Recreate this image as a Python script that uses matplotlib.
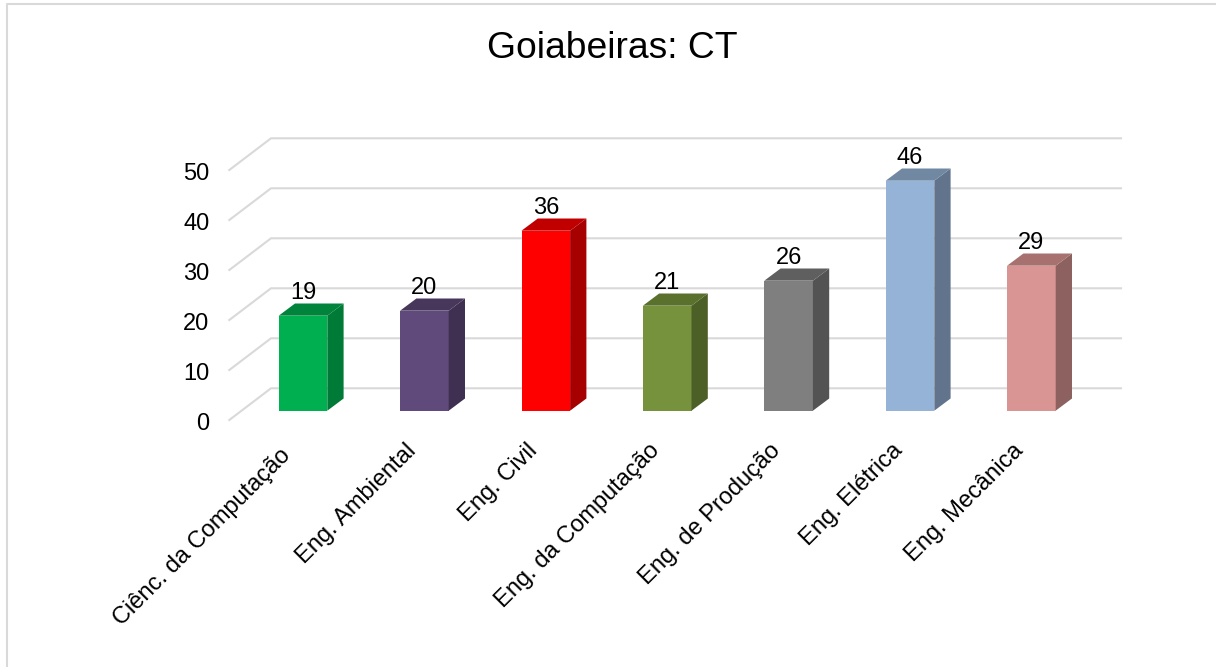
import matplotlib
matplotlib.use("Agg")
import matplotlib.pyplot as plt
from matplotlib.patches import Polygon, Rectangle
from matplotlib.lines import Line2D

categories = ["Ciênc. da Computação", "Eng. Ambiental", "Eng. Civil", "Eng. da Computação",
              "Eng. de Produção", "Eng. Elétrica", "Eng. Mecânica"]
values = [19, 20, 36, 21, 26, 46, 29]
y_ticks = [0, 10, 20, 30, 40, 50]
front_colors = ["#00B050", "#604A7B", "#FF0000", "#76923C", "#7F7F7F", "#95B3D7", "#D99594"]
side_colors = ["#007A37", "#3F2F50", "#A60000", "#4C5F27", "#535353", "#61748C", "#8D6160"]
top_colors = ["#00843C", "#47375B", "#C00000", "#5A702D", "#5F5F5F", "#7088A2", "#A7716F"]

plt.rcParams["font.family"] = ["Liberation Sans", "DejaVu Sans"]

W, H = 1216, 667
px_x = 121.4   # pixels per category
px_y = 5.0     # pixels per unit
x0, y0 = 303.0, 410.7   # pixel of category 0, value 0

fig = plt.figure(figsize=(W / 100, H / 100), dpi=100)
ax = fig.add_axes([0, 0, 1, 1])
ax.set_xlim(-x0 / px_x, (W - x0) / px_x)
ax.set_ylim((y0 - H) / px_y, y0 / px_y)
ax.axis("off")

# offsets of the fake 3d view, in data units
bar_w = 48.6 / px_x
bar_dx, bar_dy = 16.3 / px_x, 12.2 / px_y
back_x = (271 - x0) / px_x
back_end = (1121 - x0) / px_x
back_y = (y0 - 388.3) / px_y
wall_dx, wall_dy = 41.7 / px_x, 31.7 / px_y

grid_c = "#D9D9D9"
for t in y_ticks:
    ax.plot([back_x - wall_dx, back_x, back_end],
            [t + back_y - wall_dy, t + back_y, t + back_y],
            color=grid_c, lw=1.5, solid_joinstyle="miter", zorder=1)
    ax.text(back_x - wall_dx - 20 / px_x, t + back_y - wall_dy - 3.5 / px_y, str(t),
            fontsize=17, ha="right", va="center", color="black")

for i, v in enumerate(values):
    left = i - bar_w / 2
    right = i + bar_w / 2
    ax.add_patch(Rectangle((left, 0), bar_w, v, fc=front_colors[i], ec="none", zorder=3))
    ax.add_patch(Polygon([(right, 0), (right + bar_dx, bar_dy), (right + bar_dx, v + bar_dy), (right, v)],
                         fc=side_colors[i], ec="none", zorder=3))
    ax.add_patch(Polygon([(left, v), (left + bar_dx, v + bar_dy), (right + bar_dx, v + bar_dy), (right, v)],
                         fc=top_colors[i], ec="none", zorder=3))
    ax.text(i, v + 22.5 / px_y, str(v), fontsize=17, ha="center", va="center", color="black", zorder=4)
    # first label sits a little lower than the rest in the original
    lx, ly = (-24, -34) if i == 0 else (-19, -29)
    ax.text(i + lx / px_x, ly / px_y, categories[i], fontsize=17, rotation=45, ha="right", va="top",
            rotation_mode="anchor", color="black")

fig.text(612 / W, 1 - 49 / H, "Goiabeiras: CT", fontsize=26.8, ha="center", va="center", color="black")

# outer frame, only the top and left show
fig.add_artist(Line2D([7 / W, 7 / W, 1], [0, 1 - 4 / H, 1 - 4 / H], color=grid_c, lw=1.5))

fig.savefig("out.png", dpi=100)
